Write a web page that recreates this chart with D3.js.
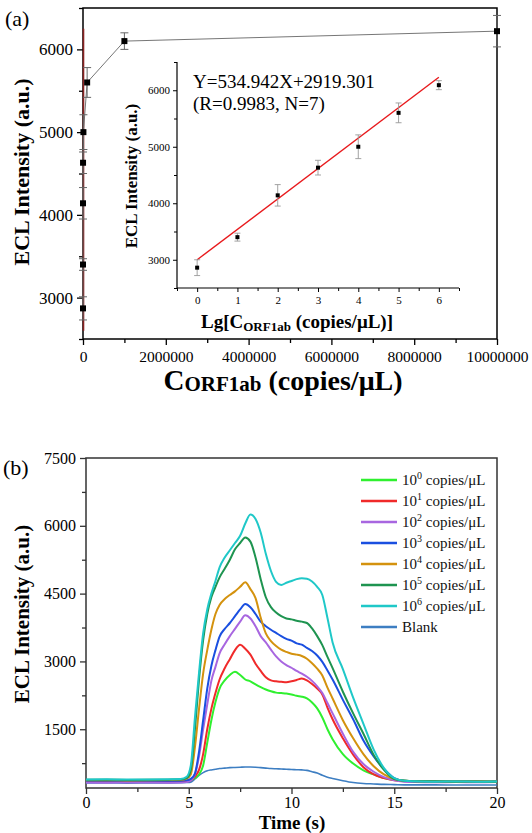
<!DOCTYPE html>
<html><head><meta charset="utf-8">
<script src="https://cdn.jsdelivr.net/npm/d3@7"></script>
<style>
html,body{margin:0;padding:0;background:#fff;}
svg{display:block;font-family:"Liberation Serif","Times New Roman",serif;}
</style></head>
<body><svg id="c" width="532" height="833"></svg>
<script>
// ---------- data: panel (a) ----------
const mainConc = [1, 10, 100, 1000, 10000, 100000, 1000000, 10000000];
const mainEcl  = [2870, 3400, 4140, 4630, 5000, 5600, 6100, 6220];
const mainErr  = [140, 70, 190, 130, 210, 180, 100, 190];
const mainXTicks = [0, 2000000, 4000000, 6000000, 8000000, 10000000];
const mainYTicks = [3000, 4000, 5000, 6000];
const mainAxisMark = [2600, 6250];

const insetLg  = [0, 1, 2, 3, 4, 5, 6];
const insetEcl = [2860, 3400, 4140, 4630, 5000, 5600, 6090];
const insetErr = [140, 70, 190, 130, 210, 175, 80];
const fitX = [0, 6];
const fitY = [3000, 6230];
const insetXTicks = [0, 1, 2, 3, 4, 5, 6];
const insetYTicks = [3000, 4000, 5000, 6000];

// ---------- data: panel (b) ----------
const times = [0,1,2,3,4,4.6,4.9,5.1,5.3,5.5,5.7,5.9,6.1,6.3,6.5,6.75,7,7.25,7.5,7.75,8,8.25,8.5,8.75,9,9.25,9.5,9.75,10,10.25,10.5,10.75,11,11.25,11.5,11.75,12,12.5,13,13.5,14,14.5,15,15.5,16,17,18,19,20];
const s1e0 = [350,355,345,350,352,350,355,380,420,500,700,1200,1700,2100,2400,2580,2700,2770,2700,2600,2560,2490,2430,2380,2340,2310,2300,2290,2270,2240,2220,2180,2090,1960,1760,1500,1280,950,740,590,500,420,380,360,350,345,350,345,350];
const s1e1 = [340,345,338,342,340,340,345,370,450,600,950,1500,1950,2300,2600,2850,3050,3250,3370,3280,3150,2950,2790,2650,2580,2560,2550,2540,2560,2590,2620,2580,2500,2400,2270,1980,1720,1300,940,660,500,420,370,350,345,340,340,345,340];
const s1e2 = [320,318,322,320,318,320,330,370,500,900,1500,2050,2570,2880,3180,3380,3560,3720,3880,4020,3950,3780,3560,3420,3260,3110,3000,2920,2860,2790,2730,2660,2570,2450,2300,2080,1850,1400,1000,730,560,440,370,340,330,325,330,325,330];
const s1e3 = [360,362,358,360,360,360,370,400,520,1000,1700,2400,2900,3250,3550,3720,3850,4000,4150,4270,4200,4050,3880,3780,3700,3630,3560,3500,3460,3400,3370,3300,3230,3130,2990,2800,2600,2150,1720,1250,900,620,420,360,350,345,345,340,345];
const s1e4 = [370,372,368,370,375,380,410,500,1100,1950,2730,3250,3700,4050,4250,4380,4470,4550,4650,4750,4600,4400,3970,3620,3450,3340,3260,3210,3170,3150,3120,3060,2960,2840,2690,2420,2180,1700,1300,950,680,500,400,360,350,345,340,345,340];
const s1e5 = [380,382,378,380,385,390,420,600,1500,2600,3470,4050,4420,4650,4860,5050,5250,5480,5620,5740,5650,5300,4820,4420,4200,4080,4000,3950,3930,3900,3880,3850,3730,3560,3360,3100,2850,2330,1850,1400,930,600,400,360,350,350,340,345,340];
const s1e6 = [390,392,388,390,395,400,450,700,1750,2750,3620,4150,4500,4780,5080,5300,5460,5620,5780,6050,6250,6150,5850,5380,5000,4760,4690,4740,4780,4820,4840,4830,4770,4650,4470,3960,3420,2830,2200,1620,1050,640,420,360,350,340,345,340,345];
const sBlank = [310,312,308,310,312,315,320,330,400,480,540,580,600,615,630,640,650,655,660,665,665,660,650,640,630,625,620,615,610,605,600,590,560,530,480,440,410,360,320,300,290,280,275,270,270,270,265,265,265];
const seriesNames = ["0","1","2","3","4","5","6","Blank"];
const seriesColors = ["#2ff02f","#f02a2a","#a866e0","#1a4fe0","#d4920e","#1e9450","#1fc8c8","#3d7ec2"];
const seriesValues = [s1e0,s1e1,s1e2,s1e3,s1e4,s1e5,s1e6,sBlank];
const bXTicks = [0,5,10,15,20];
const bYTicks = [1500,3000,4500,6000,7500];

// ---------- drawing ----------
const svg = d3.select("#c");
const F = '"Liberation Serif","Times New Roman",serif';
const fmt = d3.format("d");

// ===== panel (a) =====
const ax = d3.scaleLinear().domain([0, 10000000]).range([83, 497]);
const ay = d3.scaleLinear().domain([2500, 6500]).range([339, 8]);

const ga = svg.append("g");
ga.append("rect").attr("x", ax.range()[0]).attr("y", ay.range()[1])
  .attr("width", ax.range()[1]-ax.range()[0]).attr("height", ay.range()[0]-ay.range()[1])
  .attr("fill","none").attr("stroke","#000").attr("stroke-width",1.5);

ga.append("g").attr("transform",`translate(0,${ay.range()[0]})`)
  .call(d3.axisBottom(ax).tickValues(d3.range(1000000,10000000,2000000)).tickSize(4).tickFormat(""))
  .call(g=>g.select(".domain").remove());
ga.append("g").attr("transform",`translate(${ax.range()[0]},0)`)
  .call(d3.axisLeft(ay).tickValues(d3.range(2500,6600,1000)).tickSize(4).tickFormat(""))
  .call(g=>g.select(".domain").remove());
const axB = ga.append("g").attr("transform",`translate(0,${ay.range()[0]})`)
  .call(d3.axisBottom(ax).tickValues(mainXTicks).tickSize(6).tickPadding(6).tickFormat(fmt));
axB.select(".domain").remove();
axB.selectAll("text").attr("font-family",F).attr("font-size",15.5).attr("fill","#000");
const axL = ga.append("g").attr("transform",`translate(${ax.range()[0]},0)`)
  .call(d3.axisLeft(ay).tickValues(mainYTicks).tickSize(6).tickPadding(4).tickFormat(fmt));
axL.select(".domain").remove();
axL.selectAll("text").attr("font-family",F).attr("font-size",17).attr("fill","#000");
ga.selectAll(".tick line").attr("stroke","#000").attr("stroke-width",1.3);

ga.append("line").attr("x1",ax(0)+0.5).attr("x2",ax(0)+0.5)
  .attr("y1",ay(mainAxisMark[0])).attr("y2",ay(mainAxisMark[1]))
  .attr("stroke","#8a2222").attr("stroke-width",1.6);

ga.append("path").datum(mainConc.map((c,i)=>[c,mainEcl[i]]))
  .attr("d", d3.line().x(d=>ax(d[0])).y(d=>ay(d[1])))
  .attr("fill","none").attr("stroke","#666").attr("stroke-width",0.9);
mainConc.forEach((c,i)=>{
  const x = ax(c), y1 = ay(mainEcl[i]-mainErr[i]), y2 = ay(mainEcl[i]+mainErr[i]);
  ga.append("line").attr("x1",x).attr("x2",x).attr("y1",y1).attr("y2",y2).attr("stroke","#666").attr("stroke-width",1);
  [y1,y2].forEach(y=>ga.append("line").attr("x1",x-4).attr("x2",x+4).attr("y1",y).attr("y2",y).attr("stroke","#666").attr("stroke-width",1));
});
ga.selectAll("rect.pt").data(mainConc).join("rect").attr("class","pt")
  .attr("x",(d)=>ax(d)-3).attr("y",(d,i)=>ay(mainEcl[i])-3).attr("width",6).attr("height",6).attr("fill","#000");

ga.append("text").attr("x",5).attr("y",26).attr("font-family",F).attr("font-size",22).text("(a)");
ga.append("text").attr("transform",`translate(29,172) rotate(-90)`).attr("text-anchor","middle")
  .attr("font-family",F).attr("font-size",22).attr("font-weight","bold").text("ECL Intensity (a.u.)");
{
  const t = ga.append("text").attr("x",283).attr("y",390).attr("text-anchor","middle")
    .attr("font-family",F).attr("font-weight","bold");
  t.append("tspan").attr("font-size",29).text("C");
  t.append("tspan").attr("font-size",21).attr("dy",1).text("ORF1ab");
  t.append("tspan").attr("font-size",28).attr("dy",-1).text(" (copies/\u03bcL)");
}

// ===== inset =====
const ix = d3.scaleLinear().domain([-0.5, 6.5]).range([177, 459]);
const iy = d3.scaleLinear().domain([2500, 6500]).range([288, 62]);
const gi = svg.append("g");
gi.append("line").attr("x1",ix.range()[0]).attr("x2",ix.range()[0]).attr("y1",iy.range()[0]).attr("y2",iy.range()[1]).attr("stroke","#000").attr("stroke-width",1.2);
gi.append("line").attr("x1",ix.range()[0]).attr("x2",ix.range()[1]).attr("y1",iy.range()[0]).attr("y2",iy.range()[0]).attr("stroke","#000").attr("stroke-width",1.2);
gi.append("g").attr("transform",`translate(0,${iy.range()[0]})`)
  .call(d3.axisBottom(ix).tickValues(d3.range(-0.5,6.6,1)).tickSize(3).tickFormat(""))
  .call(g=>g.select(".domain").remove());
gi.append("g").attr("transform",`translate(${ix.range()[0]},0)`)
  .call(d3.axisLeft(iy).tickValues(d3.range(2500,6600,1000)).tickSize(3).tickFormat(""))
  .call(g=>g.select(".domain").remove());
const ixB = gi.append("g").attr("transform",`translate(0,${iy.range()[0]})`)
  .call(d3.axisBottom(ix).tickValues(insetXTicks).tickSize(4).tickPadding(4).tickFormat(fmt));
ixB.select(".domain").remove();
ixB.selectAll("text").attr("font-family",F).attr("font-size",11).attr("fill","#000");
const iyL = gi.append("g").attr("transform",`translate(${ix.range()[0]},0)`)
  .call(d3.axisLeft(iy).tickValues(insetYTicks).tickSize(4).tickPadding(3).tickFormat(fmt));
iyL.select(".domain").remove();
iyL.selectAll("text").attr("font-family",F).attr("font-size",11).attr("fill","#000");
gi.selectAll(".tick line").attr("stroke","#000");

gi.append("line").attr("x1",ix(fitX[0])).attr("x2",ix(fitX[1])).attr("y1",iy(fitY[0])).attr("y2",iy(fitY[1]))
  .attr("stroke","#e8191c").attr("stroke-width",1.4);
insetLg.forEach((c,i)=>{
  const x = ix(c), y1 = iy(insetEcl[i]-insetErr[i]), y2 = iy(insetEcl[i]+insetErr[i]);
  gi.append("line").attr("x1",x).attr("x2",x).attr("y1",y1).attr("y2",y2).attr("stroke","#999").attr("stroke-width",0.9);
  [y1,y2].forEach(y=>gi.append("line").attr("x1",x-3).attr("x2",x+3).attr("y1",y).attr("y2",y).attr("stroke","#999").attr("stroke-width",0.9));
});
gi.selectAll("rect.ip").data(insetLg).join("rect").attr("class","ip")
  .attr("x",d=>ix(d)-2).attr("y",(d,i)=>iy(insetEcl[i])-2).attr("width",4).attr("height",4).attr("fill","#000");

gi.append("text").attr("x",193).attr("y",88).attr("font-family",F).attr("font-size",19).text("Y=534.942X+2919.301");
gi.append("text").attr("x",193).attr("y",110).attr("font-family",F).attr("font-size",19).text("(R=0.9983, N=7)");
gi.append("text").attr("transform",`translate(137,176) rotate(-90)`).attr("text-anchor","middle")
  .attr("font-family",F).attr("font-size",17).attr("font-weight","bold").text("ECL Intensity (a.u.)");
{
  const t = gi.append("text").attr("x",297).attr("y",328).attr("text-anchor","middle")
    .attr("font-family",F).attr("font-weight","bold");
  t.append("tspan").attr("font-size",19).text("Lg[C");
  t.append("tspan").attr("font-size",13).attr("dy",3).text("ORF1ab");
  t.append("tspan").attr("font-size",19).attr("dy",-3).text(" (copies/\u03bcL)]");
}

// ===== panel (b) =====
const bx = d3.scaleLinear().domain([0, 20]).range([86, 497]);
const by = d3.scaleLinear().domain([200, 7500]).range([788, 458]);
const gb = svg.append("g");
gb.append("rect").attr("x",bx.range()[0]).attr("y",by.range()[1])
  .attr("width",bx.range()[1]-bx.range()[0]).attr("height",by.range()[0]-by.range()[1])
  .attr("fill","none").attr("stroke","#333").attr("stroke-width",1.5);
gb.append("g").attr("transform",`translate(0,${by.range()[0]})`)
  .call(d3.axisBottom(bx).tickValues(d3.range(2.5,20,5)).tickSize(4).tickFormat(""))
  .call(g=>g.select(".domain").remove());
gb.append("g").attr("transform",`translate(${bx.range()[0]},0)`)
  .call(d3.axisLeft(by).tickValues(d3.range(750,7500,1500)).tickSize(4).tickFormat(""))
  .call(g=>g.select(".domain").remove());
const bB = gb.append("g").attr("transform",`translate(0,${by.range()[0]})`)
  .call(d3.axisBottom(bx).tickValues(bXTicks).tickSize(6).tickPadding(3).tickFormat(fmt));
bB.select(".domain").remove();
bB.selectAll("text").attr("font-family",F).attr("font-size",16).attr("fill","#000");
const bL = gb.append("g").attr("transform",`translate(${bx.range()[0]},0)`)
  .call(d3.axisLeft(by).tickValues(bYTicks).tickSize(6).tickPadding(4).tickFormat(fmt));
bL.select(".domain").remove();
bL.selectAll("text").attr("font-family",F).attr("font-size",16).attr("fill","#000");
gb.selectAll(".tick line").attr("stroke","#333").attr("stroke-width",1.3);

const line = d3.line().x((d,i)=>bx(times[i])).y(d=>by(d)).curve(d3.curveMonotoneX);
const order = [7,0,1,2,3,4,5,6];
order.forEach(k=>{
  gb.append("path").datum(seriesValues[k]).attr("d",line)
    .attr("fill","none").attr("stroke",seriesColors[k]).attr("stroke-width",k===7?1.6:2);
});

seriesNames.forEach((n,k)=>{
  const y = 480 + k*21;
  gb.append("line").attr("x1",361).attr("x2",397).attr("y1",y).attr("y2",y)
    .attr("stroke",seriesColors[k]).attr("stroke-width",2.4);
  const t = gb.append("text").attr("x",402).attr("y",y+5).attr("font-family",F).attr("font-size",15).attr("fill","#111");
  if (n === "Blank") { t.text("Blank"); }
  else {
    t.append("tspan").text("10");
    t.append("tspan").attr("font-size",10).attr("dy",-6).text(n);
    t.append("tspan").attr("dy",6).text(" copies/\u03bcL");
  }
});

gb.append("text").attr("x",3).attr("y",475).attr("font-family",F).attr("font-size",22).text("(b)");
gb.append("text").attr("transform",`translate(29,614) rotate(-90)`).attr("text-anchor","middle")
  .attr("font-family",F).attr("font-size",21).attr("font-weight","bold").text("ECL Intensity (a.u.)");
gb.append("text").attr("x",292).attr("y",829).attr("text-anchor","middle")
  .attr("font-family",F).attr("font-size",19).attr("font-weight","bold").text("Time (s)");
</script></body></html>
